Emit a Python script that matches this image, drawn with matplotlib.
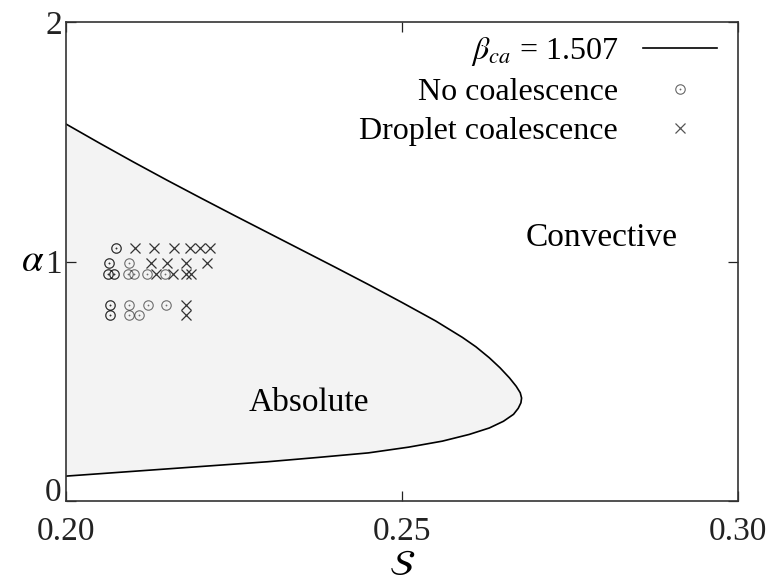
import matplotlib
matplotlib.use("Agg")
import matplotlib.pyplot as plt
from matplotlib.lines import Line2D
from matplotlib.legend_handler import HandlerTuple

plt.rcParams["font.family"] = ["Liberation Serif", "DejaVu Serif"]
plt.rcParams["mathtext.fontset"] = "stix"

# Absolute / convective boundary for beta_ca = 1.507, traced from the upper
# branch round the nose and back along the lower branch
boundary_S = [0.2000, 0.2050, 0.2100, 0.2150, 0.2200, 0.2250, 0.2300, 0.2350,
              0.2400, 0.2450, 0.2500, 0.2550, 0.2590, 0.2610, 0.2630, 0.2646,
              0.2660, 0.2670, 0.2676, 0.2678,
              0.2677, 0.2673, 0.2666, 0.2651, 0.2630, 0.2600, 0.2560, 0.2510,
              0.2450, 0.2375, 0.2300, 0.2200, 0.2100, 0.2000]
boundary_alpha = [1.574, 1.494, 1.416, 1.340, 1.266, 1.193, 1.121, 1.049,
                  0.977, 0.904, 0.829, 0.752, 0.683, 0.644, 0.598, 0.556,
                  0.514, 0.479, 0.452, 0.430,
                  0.410, 0.387, 0.362, 0.333, 0.305, 0.278, 0.250, 0.225,
                  0.201, 0.182, 0.164, 0.144, 0.124, 0.104]

# Simulations without coalescence (repeated runs listed twice)
nocoal_S = [0.2074, 0.2074,
            0.2064, 0.2064, 0.2094,
            0.2063, 0.2063, 0.2072, 0.2072, 0.2093, 0.2101, 0.2120, 0.2148,
            0.2066, 0.2066, 0.2094, 0.2122, 0.2149,
            0.2066, 0.2066, 0.2094, 0.2109]
nocoal_alpha = [1.058, 1.058,
                0.995, 0.995, 0.995,
                0.947, 0.947, 0.947, 0.947, 0.947, 0.947, 0.947, 0.947,
                0.820, 0.820, 0.820, 0.820, 0.820,
                0.775, 0.775, 0.775, 0.775]

# Simulations with droplet coalescence
coal_S = [0.2103, 0.2131, 0.2161, 0.2185, 0.2199, 0.2214,
          0.2127, 0.2150, 0.2179, 0.2210,
          0.2134, 0.2159, 0.2179, 0.2186,
          0.2179,
          0.2179]
coal_alpha = [1.058, 1.058, 1.058, 1.058, 1.058, 1.058,
              0.992, 0.992, 0.992, 0.992,
              0.947, 0.947, 0.947, 0.947,
              0.820,
              0.775]

beta_ca = 1.507
x_ticks = [0.20, 0.25, 0.30]
x_ticklabels = ["0.20", "0.25", "0.30"]
y_ticks = [0, 1, 2]
y_ticklabels = ["0", "1", "2"]

FS = 24

fig = plt.figure(figsize=(7.7, 5.86), dpi=100)
ax = fig.add_axes([0.0857, 0.145, 0.8727, 0.8175])

ax.fill(boundary_S, boundary_alpha, color="#f3f3f3", lw=0, zorder=1)
curve, = ax.plot(boundary_S, boundary_alpha, color="black", lw=1.2, zorder=2)

ring_kw = dict(ls="none", marker="o", ms=6.8, mfc="none", mec="black",
               mew=0.8, alpha=0.55, zorder=3)
dot_kw = dict(ls="none", marker="o", ms=1.3, mfc="black", mec="none",
              alpha=0.55, zorder=3)
rings, = ax.plot(nocoal_S, nocoal_alpha, **ring_kw)
dots, = ax.plot(nocoal_S, nocoal_alpha, **dot_kw)
crosses, = ax.plot(coal_S, coal_alpha, ls="none", marker="x", ms=7.5,
                   mec="#333333", mew=0.9, zorder=3)

ax.set_xlim(0.20, 0.30)
ax.set_ylim(0, 2)
ax.set_xticks(x_ticks)
ax.set_xticklabels(x_ticklabels)
ax.set_yticks(y_ticks)
ax.set_yticklabels(y_ticklabels)
ax.tick_params(direction="in", length=7, width=0.9, labelsize=FS,
               top=True, right=True, pad=3, colors="#222222")
ax.tick_params(axis="x", pad=11)
ax.get_yticklabels()[0].set_va("baseline")
for sp in ax.spines.values():
    sp.set_linewidth(1.2)
    sp.set_color("#333333")

ax.set_xlabel(r"$\mathcal{S}$", fontsize=FS + 2, labelpad=2)
ax.set_ylabel(r"$\alpha$", fontsize=FS + 4, rotation=0, va="center", ha="center")
ax.yaxis.set_label_coords(-0.049, 0.5)

ax.text(0.2362, 0.41, "Absolute", fontsize=FS, ha="center", va="center")
ax.text(0.2797, 1.10, "Convective", fontsize=FS, ha="center", va="center")

ring_h = Line2D([], [], ls="none", marker="o", ms=6.8, mfc="none", mec="#666666", mew=0.8)
dot_h = Line2D([], [], ls="none", marker="o", ms=1.3, mfc="#666666", mec="none")
cross_h = Line2D([], [], ls="none", marker="x", ms=7.5, mec="#555555", mew=0.9)
leg = ax.legend([curve, (ring_h, dot_h), cross_h],
                [r"$\beta_{ca}$ = " + f"{beta_ca:.3f}", "No coalescence",
                 "Droplet coalescence"],
                handler_map={tuple: HandlerTuple(ndivide=1, pad=0)},
                loc="upper right", bbox_to_anchor=(0.997, 1.012),
                frameon=False, markerfirst=False, fontsize=FS - 1,
                handlelength=2.3, handletextpad=0.8, labelspacing=0.3,
                borderaxespad=0.2)
for col in leg._legend_handle_box.get_children():
    col.align = "right"

fig.savefig("out.png", dpi=100)
